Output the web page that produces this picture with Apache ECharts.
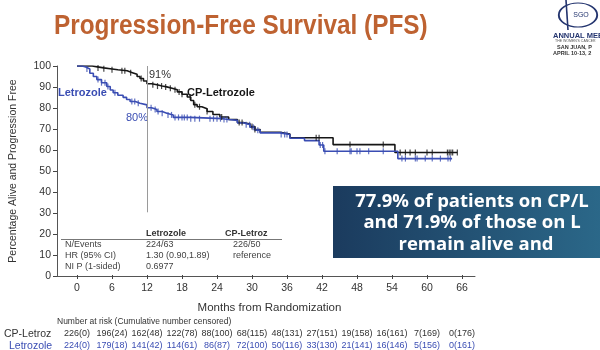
<!DOCTYPE html>
<html>
<head>
<meta charset="utf-8">
<script src="https://cdn.jsdelivr.net/npm/echarts@6/dist/echarts.min.js"></script>
<style>
  html, body { margin: 0; padding: 0; background: #fff; }
  #chart { width: 600px; height: 350px; }
</style>
</head>
<body>
<div id="chart"></div>
<script>
// KM steps: [month, % alive and progression free]
var cpLetrozole = [
  [0, 100], [2.6, 99.6], [3.5, 99.1], [4.6, 98.7], [5.7, 98.2], [7, 97.7], [8.6, 96.8],
  [9.5, 96], [10.3, 95], [10.8, 94], [11.4, 92.8], [12, 91.5], [12.8, 91], [13.7, 90.4],
  [14.6, 90], [15.4, 89.4], [16.3, 88.6], [17.2, 87.6], [18, 86.5], [18.9, 85.2], [19.5, 83.5],
  [20, 81.5], [20.6, 80.5], [21.4, 79.6], [22.3, 78.2], [23.3, 76.8], [24.5, 75.6], [26, 74.4],
  [27.5, 73], [28.5, 72.2], [29.7, 71], [30.5, 69.6], [31.4, 68.3], [34.8, 67.5], [36.5, 65.7],
  [43.9, 62.4], [54.5, 58.6], [65.2, 58.6]
];
var letrozole = [
  [0, 100], [0.9, 99.5], [1.5, 98.6], [2.2, 96.5], [2.8, 95], [3.4, 93.5], [4.2, 92],
  [5.1, 90.2], [5.7, 88.5], [6.2, 87.2], [7, 86], [7.9, 85], [8.5, 84], [9.1, 83], [10, 82.2],
  [10.8, 81.4], [12, 80], [12.8, 79.2], [13.7, 78.2], [14.6, 77.4], [15.4, 76.6], [16.5, 75.4],
  [19.4, 74.8], [25, 74.4], [26, 74], [27.5, 72.8], [28.5, 71.9], [29.7, 70.7], [30.5, 69.3],
  [31.4, 68], [34.8, 67.2], [36.5, 65.4], [39, 64.3], [41.5, 62.2], [42.3, 59.2], [55, 55.7],
  [64.3, 55.7]
];
// censoring ticks (months)
var cpCensored = [3.6, 4.6, 6, 7.7, 8.2, 9.2, 11, 13, 13.8, 14.5, 15.2, 16, 16.8, 17.5, 18,
  19.4, 20.2, 21, 22.3, 24.8, 27.8, 28.3, 30, 30.5, 41, 41.5, 46.8, 52.5, 55.4, 56.3, 57.1,
  58, 60, 60.9, 63.5, 63.8, 64.1, 64.4, 65.2];
var letCensored = [1.7, 3.6, 4.2, 4.8, 5.3, 6.5, 9.4, 9.9, 10.5, 12.7, 13.4, 13.9, 14.6, 15.6,
  16.2, 16.8, 17.4, 18, 18.4, 18.9, 19.5, 20.2, 21, 22.8, 23.4, 24, 24.6, 25.2, 25.7, 29, 29.6,
  30.2, 31, 35, 35.6, 36, 41.7, 42.1, 42.5, 44.6, 46.8, 47, 48, 48.5, 50, 52.5, 55.7, 56.3, 58,
  58.3, 59.7, 60.9, 62.3, 63.6, 64];
// number at risk (cumulative censored), one per 6-month tick
var cpRisk = ['226(0)', '196(24)', '162(48)', '122(78)', '88(100)', '68(115)', '48(131)',
  '27(151)', '19(158)', '16(161)', '7(169)', '0(176)'];
var letRisk = ['224(0)', '179(18)', '141(42)', '114(61)', '86(87)', '72(100)', '50(116)',
  '33(130)', '21(141)', '16(146)', '5(156)', '0(161)'];

var BLACK = '#161616';
var BLUE = '#3a4db3';
var FONT = 'Liberation Sans';

function survAt(curve, t) {
  var v = curve[0][1];
  for (var i = 0; i < curve.length; i++) {
    if (curve[i][0] <= t) v = curve[i][1];
  }
  return v;
}
function censorPoints(curve, times) {
  return times.map(function (t) { return [t, survAt(curve, t)]; });
}

function riskAxis(list, offset, color) {
  return {
    gridIndex: 0, type: 'value', position: 'bottom', offset: offset,
    min: 0, max: 66, interval: 6,
    axisLine: { show: false }, axisTick: { show: false }, splitLine: { show: false },
    axisLabel: {
      margin: 0, fontSize: 9, color: color, fontFamily: FONT,
      showMinLabel: true, showMaxLabel: true,
      formatter: function (v) { return list[Math.round(v / 6)]; }
    }
  };
}

function txt(x, y, s, size, color, extra) {
  var el = { type: 'text', x: x, y: y, silent: true,
    style: { text: s, fontSize: size, fill: color, fontFamily: FONT, verticalAlign: 'middle' } };
  for (var k in extra) {
    if (k === 'scaleX') el.scaleX = extra[k];
    else el.style[k] = extra[k];
  }
  return el;
}

var chart = echarts.init(document.getElementById('chart'));

var boxFont = { align: 'center', fontWeight: 'bold', fontFamily: 'Open Sans' };

var option = {
  animation: false,
  grid: [
    { left: 77, right: 138, top: 66, bottom: 74 },
    { left: 57, right: 125, top: 66, bottom: 74 }
  ],
  xAxis: [
    {
      gridIndex: 0, type: 'value', position: 'bottom', min: 0, max: 66, interval: 6,
      axisLine: { show: false, onZero: false },
      axisTick: { show: true, length: 4, lineStyle: { color: '#444' } },
      axisLabel: { fontSize: 10.5, color: '#333', margin: 8, fontFamily: FONT },
      splitLine: { show: false },
      name: 'Months from Randomization', nameLocation: 'middle', nameGap: 27,
      nameTextStyle: { fontSize: 11.5, color: '#333', fontFamily: FONT }
    },
    {
      gridIndex: 1, type: 'value', min: 0, max: 1,
      axisLine: { show: true, onZero: false, lineStyle: { color: '#555' } },
      axisTick: { show: false }, axisLabel: { show: false }, splitLine: { show: false }
    },
    riskAxis(cpRisk, 54, '#333'),
    riskAxis(letRisk, 66, BLUE)
  ],
  yAxis: [
    { gridIndex: 0, type: 'value', min: 0, max: 100, show: false },
    {
      gridIndex: 1, type: 'value', min: 0, max: 100, interval: 10,
      axisLine: { show: true, lineStyle: { color: '#555' } },
      axisTick: { show: true, length: 4, lineStyle: { color: '#444' } },
      axisLabel: { fontSize: 10.5, color: '#333', margin: 6, fontFamily: FONT },
      splitLine: { show: false },
      name: 'Percentage Alive and Progression Free', nameLocation: 'middle', nameGap: 38,
      nameTextStyle: { fontSize: 10.5, color: '#333', fontFamily: FONT }
    }
  ],
  series: [
    {
      name: 'CP-Letrozole', type: 'line', xAxisIndex: 0, yAxisIndex: 0,
      data: cpLetrozole, step: 'end', symbol: 'none', z: 3,
      lineStyle: { color: BLACK, width: 1.6 },
      markLine: {
        silent: true, symbol: ['none', 'none'], label: { show: false },
        lineStyle: { color: '#9a9a9a', width: 1, type: 'solid' },
        data: [[{ coord: [12, 30] }, { coord: [12, 100] }]]
      }
    },
    {
      name: 'Letrozole', type: 'line', xAxisIndex: 0, yAxisIndex: 0,
      data: letrozole, step: 'end', symbol: 'none', z: 4,
      lineStyle: { color: BLUE, width: 1.6 }
    },
    {
      type: 'scatter', xAxisIndex: 0, yAxisIndex: 0, z: 5,
      data: censorPoints(cpLetrozole, cpCensored),
      symbol: 'rect', symbolSize: [1.2, 6], itemStyle: { color: BLACK }
    },
    {
      type: 'scatter', xAxisIndex: 0, yAxisIndex: 0, z: 6,
      data: censorPoints(letrozole, letCensored),
      symbol: 'rect', symbolSize: [1.2, 6], itemStyle: { color: BLUE }
    }
  ],
  graphic: [
    // title
    txt(54, 26, 'Progression-Free Survival (PFS)', 28, '#be6231',
      { fontWeight: 'bold', scaleX: 0.87 }),
    // SGO logo
    { type: 'circle', x: 578, y: 15, scaleX: 1.6, shape: { r: 12 },
      style: { fill: 'none', stroke: '#24356f', lineWidth: 1.2 }, silent: true },
    { type: 'line', shape: { x1: 566, y1: 0, x2: 568, y2: 30 },
      style: { stroke: '#24356f', lineWidth: 1.6 }, silent: true },
    txt(581, 15, 'SGO', 7, '#24356f', { align: 'center' }),
    txt(553, 36, 'ANNUAL MEET', 7.5, '#24356f', { fontWeight: 'bold' }),
    txt(555, 41, 'THE WOMEN\u2019S CANCER', 3.5, '#555'),
    txt(557, 47, 'SAN JUAN, P', 5.5, '#333', { fontWeight: 'bold' }),
    txt(553, 53, 'APRIL 10-13, 2', 5.5, '#333', { fontWeight: 'bold' }),
    // curve annotations
    txt(58, 93, 'Letrozole', 11, BLUE, { fontWeight: 'bold' }),
    txt(126, 118, '80%', 11, BLUE),
    txt(149, 75, '91%', 11, '#333'),
    txt(187, 93, 'CP-Letrozole', 11, BLACK, { fontWeight: 'bold' }),
    // inset table
    txt(146, 234, 'Letrozole', 9, '#333', { fontWeight: 'bold' }),
    txt(225, 234, 'CP-Letroz', 9, '#333', { fontWeight: 'bold' }),
    { type: 'line', shape: { x1: 61, y1: 239.5, x2: 282, y2: 239.5 },
      style: { stroke: '#777', lineWidth: 1 }, silent: true },
    txt(65, 245, 'N/Events', 9, '#444'),
    txt(146, 245, '224/63', 9, '#444'),
    txt(233, 245, '226/50', 9, '#444'),
    txt(65, 256, 'HR (95% CI)', 9, '#444'),
    txt(146, 256, '1.30 (0.90,1.89)', 9, '#444'),
    txt(233, 256, 'reference', 9, '#444'),
    txt(65, 267, 'NI P (1-sided)', 9, '#444'),
    txt(146, 267, '0.6977', 9, '#444'),
    // number at risk header and row names
    txt(57, 322, 'Number at risk (Cumulative number censored)', 8.5, '#333'),
    txt(4, 334, 'CP-Letroz', 10.5, '#333'),
    txt(9, 346, 'Letrozole', 10.5, BLUE),
    // callout box
    { type: 'rect', x: 333, y: 186, shape: { width: 270, height: 72 }, silent: true,
      style: { fill: new echarts.graphic.LinearGradient(0, 0, 1, 0, [
        { offset: 0, color: '#1b3b5e' }, { offset: 1, color: '#2b6889' }]) } },
    txt(472, 202, '77.9% of patients on CP/L', 18.5, '#fff', boxFont),
    txt(472, 223, 'and 71.9% of those on L', 18.5, '#fff', boxFont),
    txt(476, 245, 'remain alive and', 18.5, '#fff', boxFont)
  ]
};

chart.setOption(option);
</script>
</body>
</html>
